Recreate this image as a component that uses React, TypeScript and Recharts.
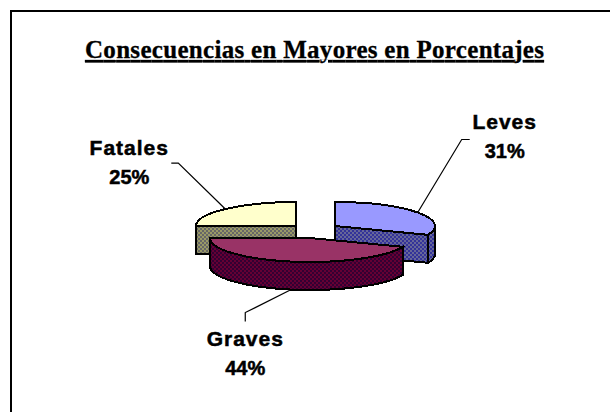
import React from 'react';
import { PieChart, Pie, Cell } from 'recharts';

// Drawn in this order so that the front slice overlaps the two rear ones.
const names = ['Fatales', 'Leves', 'Graves'];
const values = [25, 31, 44];
const title = 'Consecuencias en Mayores en Porcentajes';
const topColors = ['#ffffcc', '#9999ff', '#993366'];
const rows = names.map((name, i) => ({ name, value: values[i] }));

const SQUASH = 0.24;
const DEPTH = 28;
const explode: Record<string, [number, number]> = {
  Fatales: [-19, 0],
  Leves: [20, 0],
  Graves: [-5, 12],
};
const labelLayout: Record<string, any> = {
  Fatales: { elbow: [-47, -46], end: [-54, -46], text: [-96, -54] },
  Leves: { elbow: [44, -73], end: [52, -73], text: [87, -84] },
  Graves: { elbow: [-46, 23], end: [-46, 32], text: [-46, 56] },
};
const RAD = Math.PI / 180;

function Slice3D(props: any) {
  const { cx, cy, outerRadius: r, startAngle, endAngle, index, name } = props;
  const [dx, dy] = explode[name ?? props.payload?.name];
  const x0 = cx + dx;
  const y0 = cy + dy;
  const ry = r * SQUASH;
  const pt = (a: number, d = 0) => [x0 + r * Math.cos(a * RAD), y0 - ry * Math.sin(a * RAD) + d];
  const arc = (a: number, b: number, d = 0) => {
    const [x, y] = pt(b, d);
    return `A${r} ${ry} 0 ${Math.abs(a - b) > 180 ? 1 : 0} 1 ${x} ${y}`;
  };
  const [sx, sy] = pt(startAngle);
  const [ex, ey] = pt(endAngle);
  const top = `M${x0} ${y0}L${sx} ${sy}${arc(startAngle, endAngle)}Z`;
  const fill = `url(#dither${index})`;
  const quad = (x: number, y: number) =>
    `M${x0} ${y0}L${x} ${y}L${x} ${y + DEPTH}L${x0} ${y0 + DEPTH}Z`;
  const wallStart = Math.min(startAngle, 0);
  const wallEnd = Math.max(endAngle, -180);
  let wall = '';
  if (wallStart > wallEnd) {
    const [ax, ay] = pt(wallStart);
    const [bx, by] = pt(wallEnd);
    const [cx2, cy2] = pt(wallStart, DEPTH);
    wall = `M${ax} ${ay}${arc(wallStart, wallEnd)}L${bx} ${by + DEPTH}${
      `A${r} ${ry} 0 ${Math.abs(wallStart - wallEnd) > 180 ? 1 : 0} 0 ${cx2} ${cy2}`
    }Z`;
  }
  const common = { stroke: '#000', strokeWidth: 2, strokeLinejoin: 'miter' as const };
  return (
    <g shapeRendering="crispEdges">
      <path d={quad(sx, sy)} fill={fill} {...common} />
      <path d={quad(ex, ey)} fill={fill} {...common} />
      {wall && <path d={wall} fill={fill} {...common} />}
      <path d={top} fill={topColors[index]} {...common} />
    </g>
  );
}

function SliceLabel(props: any) {
  const { cx, cy, outerRadius: r, midAngle, name, value } = props;
  const [dx, dy] = explode[name];
  const x = cx + dx + r * Math.cos(midAngle * RAD);
  const sin = Math.sin(midAngle * RAD);
  const y = cy + dy - r * SQUASH * sin + (sin < -0.5 ? DEPTH : 0);
  const l = labelLayout[name];
  const font = {
    fontFamily: '"Liberation Sans", Arial, sans-serif',
    fontWeight: 700,
    fill: '#000',
    stroke: '#000',
    strokeWidth: 0.5,
  };
  return (
    <g>
      <polyline
        points={`${x},${y} ${x + l.elbow[0]},${y + l.elbow[1]} ${x + l.end[0]},${y + l.end[1]}`}
        fill="none"
        stroke="#000"
        strokeWidth={1.2}
      />
      <text x={x + l.text[0]} y={y + l.text[1]} textAnchor="middle" fontSize={21} letterSpacing={1} {...font}>
        {name}
      </text>
      <text x={x + l.text[0]} y={y + l.text[1] + 29} textAnchor="middle" fontSize={20} {...font}>
        {`${value}%`}
      </text>
    </g>
  );
}

function Dither({ id, a, b }: { id: string; a: string; b: string }) {
  return (
    <pattern id={id} width={4} height={4} patternUnits="userSpaceOnUse">
      <rect width={4} height={4} fill={a} />
      <rect width={2} height={2} fill={b} />
      <rect x={2} y={2} width={2} height={2} fill={b} />
    </pattern>
  );
}

export default function App() {
  return (
    <div style={{ position: 'absolute', left: 0, top: 0, width: 610, height: 412, background: '#fff' }}>
      <PieChart width={610} height={412} margin={{ top: 0, right: 0, bottom: 0, left: 0 }}>
        <defs>
          <Dither id="dither0" a="#999966" b="#666666" />
          <Dither id="dither1" a="#333399" b="#666699" />
          <Dither id="dither2" a="#660033" b="#330033" />
        </defs>
        <path d="M11 412V11H610" fill="none" stroke="#000" strokeWidth={2} shapeRendering="crispEdges" />
        <text
          x={314.5}
          y={58}
          textAnchor="middle"
          textLength={459}
          lengthAdjust="spacing"
          fontFamily='"Liberation Serif", "Times New Roman", serif'
          fontWeight={700}
          fontSize={25}
          stroke="#000"
          strokeWidth={0.3}
          textDecoration="underline"
          fill="#000"
        >
          {title}
        </text>
        <Pie
          data={rows}
          dataKey="value"
          nameKey="name"
          cx={315}
          cy={226}
          outerRadius={100}
          startAngle={180}
          endAngle={-180}
          paddingAngle={0}
          stroke="none"
          isAnimationActive={false}
          shape={Slice3D}
          label={SliceLabel}
          labelLine={false}
        >
          {rows.map((r, i) => (
            <Cell key={r.name} fill={topColors[i]} />
          ))}
        </Pie>
      </PieChart>
    </div>
  );
}
